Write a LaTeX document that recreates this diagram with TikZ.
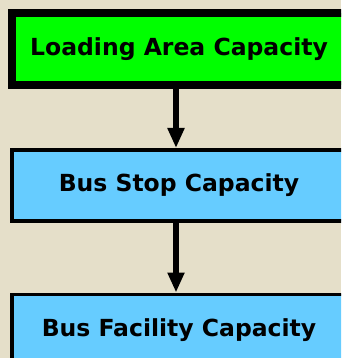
\documentclass[tikz,border=0pt]{standalone}
\usepackage{fontspec}
\setmainfont{DejaVu Sans}
\usetikzlibrary{arrows.meta, positioning}
\definecolor{Paper}{HTML}{E5DFC9}
\definecolor{BrightGreen}{HTML}{00FF00}
\definecolor{SkyBlue}{HTML}{66CCFF}

\tikzset{
    capbox/.style={draw=black, minimum width=334pt, minimum height=71pt,
        inner sep=0pt, font=\fontsize{23.5}{28}\selectfont\bfseries},
    flow/.style={line width=5.5pt, -{Triangle[width=16pt,length=20pt]}}
}

\begin{document}
\begin{tikzpicture}[x=1pt, y=-1pt]
    % paper and frame
    \fill[Paper] (0,0) rectangle (341,358);
    \useasboundingbox (0,0) rectangle (341,358);
    \clip (0,0) rectangle (341,358);

    % the three capacity levels
    \node[capbox, fill=BrightGreen, line width=8pt, minimum height=72pt] (load) at (179,49) {Loading Area Capacity};
    \node[capbox, fill=SkyBlue, line width=3.5pt, below=59pt of load] (stop) {Bus Stop Capacity};
    \node[capbox, fill=SkyBlue, line width=3.5pt, below=70pt of stop] (facility) {Bus Facility Capacity};

    % connectors, a little left of the box centres
    \draw[flow] ([xshift=-3pt]load.south) -- ([xshift=-3pt]stop.north);
    \draw[flow] ([xshift=-3pt]stop.south) -- ([xshift=-3pt]facility.north);
\end{tikzpicture}
\end{document}
